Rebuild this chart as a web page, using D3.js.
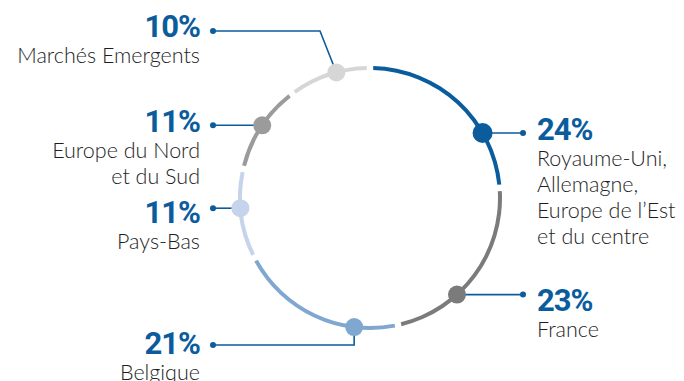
<!DOCTYPE html>
<html>
<head>
<meta charset="utf-8">
<script src="https://cdn.jsdelivr.net/npm/d3@7"></script>
<style>
  body { margin: 0; background: #fff; }
  .pct { font-family: Roboto, sans-serif; font-weight: 700; font-size: 31px; fill: #0b5c9d; letter-spacing: -1px; }
  .lbl { font-family: Lato, sans-serif; font-weight: 300; font-size: 21.5px; fill: #1e1e1e; }
</style>
</head>
<body>
<script>
// data
const shares = [24, 23, 21, 11, 11, 10];
const names = [
  ["Royaume-Uni,", "Allemagne,", "Europe de l\u2019Est", "et du centre"],
  ["France"],
  ["Belgique"],
  ["Pays-Bas"],
  ["Europe du Nord", "et du Sud"],
  ["March\u00e9s Emergents"]
];
const colors = ["#0b5c9d", "#7b7b7b", "#80a7cf", "#c5d4ea", "#9b9b9b", "#d6d6d6"];

// label layout (degrees clockwise from top, label side, baseline of the %)
const dotAngle = [60, 138, 187, 265.5, 304, 345];
const side = ["right", "right", "left", "left", "left", "left"];
const pctY = [140, 311, 354, 223, 132, 37];

const width = 684, height = 381;
const cx = 370, cy = 198, R = 130;
const leftX = 213, rightX = 523;

const svg = d3.select('body').append('svg')
  .attr('width', width)
  .attr('height', height);

const g = svg.append('g').attr('transform', `translate(${cx},${cy})`);

const pie = d3.pie().sort(null).value(d => d).padAngle(0.035);
const arc = d3.arc().innerRadius(R - 2).outerRadius(R + 2);

g.selectAll('path.seg')
  .data(pie(shares))
  .enter().append('path')
  .attr('class', 'seg')
  .attr('d', arc)
  .attr('fill', (d, i) => colors[i]);

const rad = a => a * Math.PI / 180;

shares.forEach((v, i) => {
  const [dx, dy] = d3.pointRadial(rad(dotAngle[i]), R);
  const px = cx + dx, py = cy + dy;
  const endX = side[i] === 'right' ? rightX : leftX;
  let pts;
  if (i === 5) {
    pts = [[px, py], [320, 31], [endX, 31]];          // elbow up
  } else if (i === 2) {
    pts = [[px, py], [px, 345], [endX, 345]];         // elbow down
  } else {
    pts = [[px, py], [endX, py]];
  }
  const endY = pts[pts.length - 1][1];

  svg.append('path')
    .attr('d', d3.line()(pts))
    .attr('fill', 'none')
    .attr('stroke', '#0b5c9d')
    .attr('stroke-width', 1.6);
  svg.append('circle')
    .attr('cx', endX).attr('cy', endY).attr('r', 3)
    .attr('fill', '#0b5c9d');
  svg.append('circle')
    .attr('cx', px).attr('cy', py).attr('r', i === 0 ? 10 : 9)
    .attr('fill', colors[i]);

  const tx = side[i] === 'right' ? 537 : 200;
  const anchor = side[i] === 'right' ? 'start' : 'end';
  svg.append('text')
    .attr('class', 'pct')
    .attr('x', tx).attr('y', pctY[i])
    .attr('text-anchor', anchor)
    .text(v + '%');
  const t = svg.append('text')
    .attr('class', 'lbl')
    .attr('text-anchor', anchor);
  names[i].forEach((line, k) => {
    t.append('tspan')
      .attr('x', tx)
      .attr('y', pctY[i] + 26 + k * 26)
      .text(line);
  });
});
</script>
</body>
</html>
